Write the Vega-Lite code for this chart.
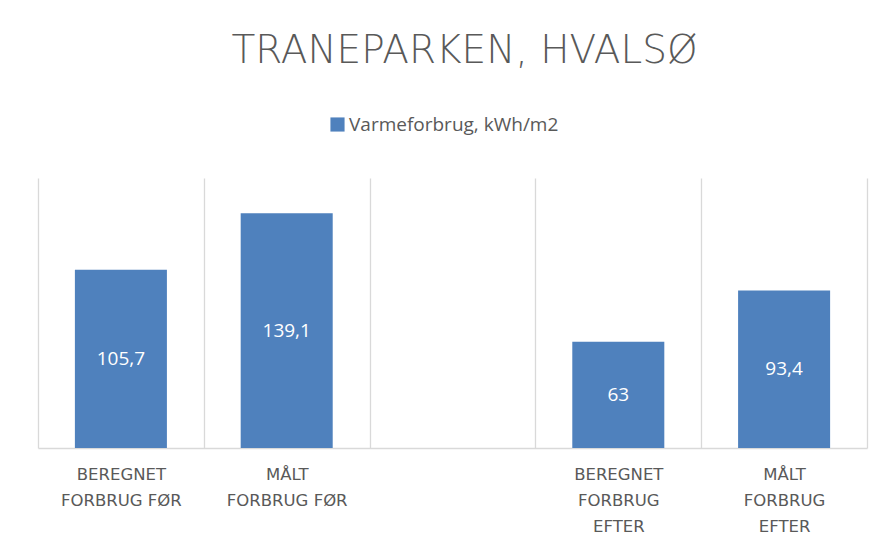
{
  "$schema": "https://vega.github.io/schema/vega-lite/v6.json",
  "width": 829,
  "height": 270,
  "autosize": {"type": "none"},
  "padding": {"left": 38, "top": 178, "right": 17, "bottom": 103},
  "background": "white",
  "title": {
    "text": "TRANEPARKEN, HVALSØ",
    "anchor": "middle",
    "frame": "group",
    "baseline": "alphabetic",
    "offset": 13,
    "dx": 12,
    "font": "DejaVu Sans",
    "fontSize": 39,
    "fontWeight": 200,
    "color": "#595959"
  },
  "data": {
    "values": [
      {"kategori": "BEREGNET FORBRUG FØR", "serie": "Varmeforbrug, kWh/m2", "value": 105.7},
      {"kategori": "MÅLT FORBRUG FØR", "serie": "Varmeforbrug, kWh/m2", "value": 139.1},
      {"kategori": "BEREGNET FORBRUG EFTER", "serie": "Varmeforbrug, kWh/m2", "value": 63},
      {"kategori": "MÅLT FORBRUG EFTER", "serie": "Varmeforbrug, kWh/m2", "value": 93.4}
    ]
  },
  "encoding": {
    "x": {
      "field": "kategori",
      "type": "nominal",
      "sort": null,
      "scale": {
        "domain": ["BEREGNET FORBRUG FØR", "MÅLT FORBRUG FØR", "", "BEREGNET FORBRUG EFTER", "MÅLT FORBRUG EFTER"],
        "paddingInner": 0,
        "paddingOuter": 0
      },
      "axis": {
        "title": null,
        "labelAngle": 0,
        "tickBand": "extent",
        "grid": true,
        "gridColor": "#D9D9D9",
        "gridWidth": 1.3,
        "ticks": false,
        "domain": true,
        "domainColor": "#D9D9D9",
        "domainWidth": 1.3,
        "labelFont": "DejaVu Sans",
        "labelFontSize": 16.5,
        "labelColor": "#595959",
        "labelPadding": 26,
        "labelLineHeight": 26,
        "labelBaseline": "middle",
        "labelOverlap": false,
        "labelLimit": 300,
        "labelExpr": "indexof(datum.label, 'EFTER') >= 0 ? split(datum.label, ' ') : [split(datum.label, ' ')[0], join(slice(split(datum.label, ' '), 1), ' ')]"
      }
    }
  },
  "layer": [
    {
      "mark": {"type": "bar", "width": {"band": 0.555}},
      "encoding": {
        "y": {
          "field": "value",
          "type": "quantitative",
          "scale": {"domain": [0, 160], "nice": false},
          "axis": null
        },
        "color": {
          "field": "serie",
          "type": "nominal",
          "scale": {"range": ["#4F81BD"]},
          "legend": {
            "orient": "none",
            "legendX": 290,
            "legendY": -63,
            "direction": "horizontal",
            "title": null,
            "symbolType": "square",
            "symbolSize": 200,
            "symbolStrokeWidth": 0,
            "labelFont": "Open Sans",
            "labelFontSize": 19,
            "labelColor": "#595959",
            "labelOffset": 2,
            "labelLimit": 400
          }
        }
      }
    },
    {
      "transform": [{"calculate": "datum.value / 2", "as": "midt"}],
      "mark": {"type": "text", "color": "white", "font": "Open Sans", "fontSize": 19, "baseline": "middle"},
      "encoding": {
        "y": {"field": "midt", "type": "quantitative"},
        "text": {"field": "value", "type": "quantitative", "format": ".4~r"}
      }
    }
  ],
  "config": {
    "view": {"stroke": null},
    "locale": {"number": {"decimal": ",", "thousands": ".", "grouping": [3], "currency": ["", " kr."]}}
  }
}
